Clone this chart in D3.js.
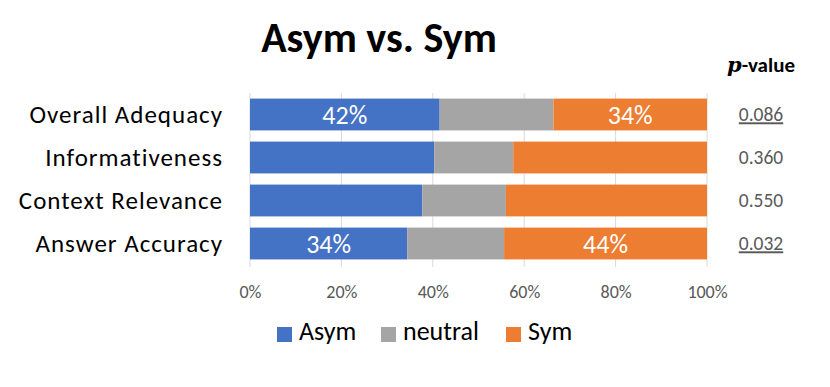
<!DOCTYPE html>
<html>
<head>
<meta charset="utf-8">
<script src="https://cdn.jsdelivr.net/npm/d3@7"></script>
<style>
  body { margin: 0; background: #fff; }
  svg text { font-family: Carlito, "Open Sans", sans-serif; }
</style>
</head>
<body>
<svg id="chart"></svg>
<script>
// Data
const categories = ["Overall Adequacy", "Informativeness", "Context Relevance", "Answer Accuracy"];
const seriesNames = ["Asym", "neutral", "Sym"];
const asym = [41.5, 40.3, 37.7, 34.4];
const neutral = [24.9, 17.3, 18.3, 21.2];
const sym = [33.6, 42.4, 44.0, 44.4];
const pValues = ["0.086", "0.360", "0.550", "0.032"];
const significant = [true, false, false, true];
const xTicks = [0, 20, 40, 60, 80, 100];
const colors = ["#4472c4", "#a5a5a5", "#ed7d31"];

const width = 830;
const height = 387;

const svg = d3.select("#chart")
    .attr("width", width)
    .attr("height", height);

// Scales
const x = d3.scaleLinear().domain([0, 100]).range([250, 707]);
const y = d3.scaleBand().domain(categories).range([93, 265]).paddingInner(0.26).paddingOuter(0.13);

// Stack the series
const rows = categories.map((c, i) => ({ cat: c, Asym: asym[i], neutral: neutral[i], Sym: sym[i], i: i }));
const stacked = d3.stack().keys(seriesNames)(rows);

// Title
svg.append("text")
    .attr("x", 379).attr("y", 52)
    .attr("text-anchor", "middle")
    .style("font-size", "42px")
    .style("font-weight", "bold")
    .text("Asym vs. Sym");

// Gridlines
svg.append("g")
    .selectAll("line")
    .data(xTicks)
    .enter().append("line")
    .attr("x1", d => x(d)).attr("x2", d => x(d))
    .attr("y1", 93).attr("y2", 267)
    .attr("stroke", "#d9d9d9")
    .attr("stroke-width", 1);

// Bars
const layers = svg.append("g")
    .selectAll("g")
    .data(stacked)
    .enter().append("g")
    .attr("fill", (d, i) => colors[i]);

layers.selectAll("rect")
    .data(d => d)
    .enter().append("rect")
    .attr("x", d => x(d[0]))
    .attr("y", d => y(d.data.cat))
    .attr("width", d => x(d[1]) - x(d[0]))
    .attr("height", y.bandwidth());

// Data labels (only significant rows, Asym and Sym)
[0, 2].forEach(k => {
    svg.append("g")
        .selectAll("text")
        .data(stacked[k].filter(d => significant[d.data.i]))
        .enter().append("text")
        .attr("x", d => (x(d[0]) + x(d[1])) / 2)
        .attr("y", d => y(d.data.cat) + y.bandwidth() / 2)
        .attr("dy", "0.35em")
        .attr("text-anchor", "middle")
        .attr("fill", "#fff")
        .style("font-size", "26px")
        .text(d => Math.round(d[1] - d[0]) + "%");
});

// Category axis labels
svg.append("g")
    .selectAll("text")
    .data(categories)
    .enter().append("text")
    .attr("x", 223)
    .attr("y", d => y(d) + y.bandwidth() / 2)
    .attr("dy", "0.35em")
    .attr("text-anchor", "end")
    .attr("fill", "#000")
    .style("font-size", "25px")
    .style("letter-spacing", "1px")
    .text(d => d);

// X axis
const xAxis = d3.axisBottom(x)
    .tickValues(xTicks)
    .tickSize(0)
    .tickFormat(d => d + "%");

const xg = svg.append("g")
    .attr("transform", "translate(0, 282)")
    .call(xAxis);
xg.select(".domain").remove();
xg.selectAll("text")
    .attr("fill", "#595959")
    .style("font-size", "18px")
    .style("font-family", "Carlito, 'Open Sans', sans-serif");

// p-value header
const hdr = svg.append("text")
    .attr("x", 761).attr("y", 72)
    .attr("text-anchor", "middle")
    .style("font-size", "21px")
    .style("font-weight", "bold");
hdr.append("tspan")
    .style("font-family", "'DejaVu Serif', serif")
    .style("font-style", "italic")
    .text("p");
hdr.append("tspan").text("-value");

// p-values
svg.append("g")
    .selectAll("text")
    .data(pValues)
    .enter().append("text")
    .attr("x", 761)
    .attr("y", (d, i) => y(categories[i]) + y.bandwidth() / 2)
    .attr("dy", "0.35em")
    .attr("text-anchor", "middle")
    .attr("fill", "#595959")
    .style("font-size", "19.5px")
    .style("text-decoration", (d, i) => significant[i] ? "underline" : "none")
    .text(d => d);

// Legend
const legendX = [277, 381, 506];
const legend = svg.append("g")
    .selectAll("g")
    .data(seriesNames)
    .enter().append("g")
    .attr("transform", (d, i) => `translate(${legendX[i]}, 327)`);
legend.append("rect")
    .attr("width", 15).attr("height", 15)
    .attr("fill", (d, i) => colors[i]);
legend.append("text")
    .attr("x", 22).attr("y", 13)
    .style("font-size", "26px")
    .text(d => d);
</script>
</body>
</html>
